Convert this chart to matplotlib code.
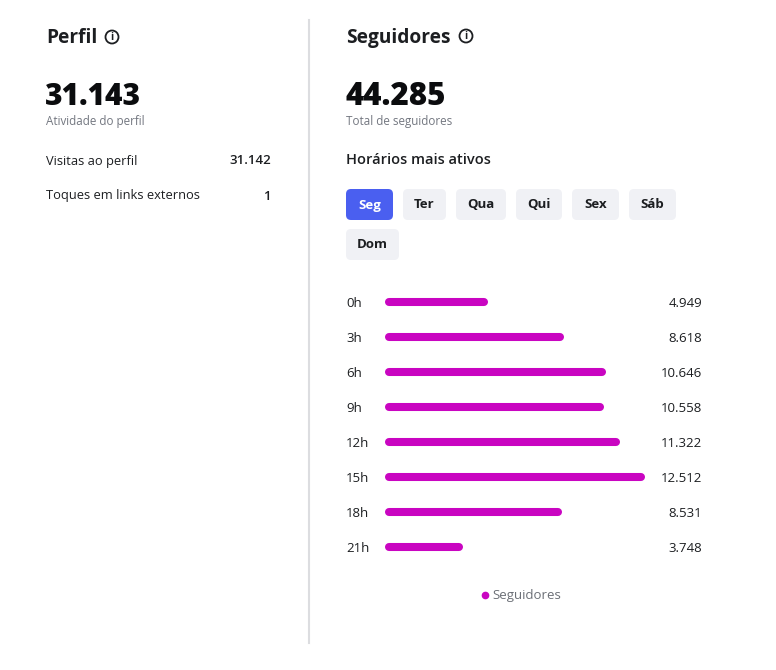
import matplotlib
matplotlib.use("Agg")
from matplotlib import pyplot as plt
from matplotlib import transforms
from matplotlib.patches import FancyBboxPatch, Circle

plt.rcParams['font.family'] = ['Open Sans', 'DejaVu Sans']

# data
profile_total = "31.143"
profile_rows = ["Visitas ao perfil", "Toques em links externos"]
profile_values = ["31.142", "1"]
followers_total = "44.285"
days = ["Seg", "Ter", "Qua", "Qui", "Sex", "Sáb", "Dom"]
hours = ["0h", "3h", "6h", "9h", "12h", "15h", "18h", "21h"]
followers = [4949, 8618, 10646, 10558, 11322, 12512, 8531, 3748]

DARK = "#1c1e21"
GRAY = "#737780"
BAR = "#c905c1"
BLUE = "#4a5ff0"
BTN = "#f0f1f5"

W, H = 776, 670
fig = plt.figure(figsize=(W / 100, H / 100), dpi=100)
bg = fig.add_axes([0, 0, 1, 1])
bg.set_xlim(0, W)
bg.set_ylim(H, 0)
bg.axis("off")


def info_icon(x, y):
    bg.add_patch(Circle((x, y), 6.5, fill=False, lw=1.3, ec=DARK))
    bg.text(x, y + 0.5, "i", ha="center", va="center", fontsize=7.5,
            fontweight="bold", color=DARK)


# divider
bg.plot([309, 309], [20, 643], color="#dcdde0", lw=1.5)

# left panel
bg.text(46, 38, "Perfil", fontsize=13.8, fontweight="bold", color=DARK, va="center")
info_icon(112, 37)
bg.text(45, 97, profile_total, fontsize=21.5, fontweight="extra bold", color="#0b0c0e", va="center")
bg.text(46, 122, "Atividade do perfil", fontsize=8.4, color=GRAY, va="center")
for i, (lab, val) in enumerate(zip(profile_rows, profile_values)):
    y = 161 + i * 35
    bg.text(46, y, lab, fontsize=9.3, color=DARK, va="center")
    bg.text(271, y, val, fontsize=9.5, color=DARK, va="center", ha="right",
            fontweight="semibold")

# right panel
bg.text(346, 38, "Seguidores", fontsize=13.8, fontweight="bold", color=DARK, va="center")
info_icon(466, 36)
bg.text(345, 97, followers_total, fontsize=22.5, fontweight="extra bold", color="#0b0c0e", va="center")
bg.text(346, 122, "Total de seguidores", fontsize=8.4, color=GRAY, va="center")
bg.text(346, 160, "Horários mais ativos", fontsize=10.5, color=DARK, va="center",
        fontweight="semibold")

# day buttons
btn_x = [346, 403, 456, 516, 572, 629, 346]
btn_w = [47, 43, 50, 46, 47, 47, 53]
btn_y = [189, 189, 189, 189, 189, 189, 229]
for i, d in enumerate(days):
    sel = i == 0
    bg.add_patch(FancyBboxPatch((btn_x[i] + 5, btn_y[i] + 5), btn_w[i] - 10, 31 - 10,
                                boxstyle="round,pad=5", fc=BLUE if sel else BTN,
                                ec="none"))
    bg.text(btn_x[i] + btn_w[i] / 2, btn_y[i] + 16, d, ha="center", va="center",
            fontsize=9.5, fontweight="bold", color="white" if sel else DARK)

# bar chart
left, right = 385, 645
top, bottom = 302 - 17.5, 547 + 17.5
ax = fig.add_axes([left / W, 1 - bottom / H, (right - left) / W, (bottom - top) / H])
xmax = max(followers)
ax.set_xlim(0, xmax)
ax.set_ylim(len(hours) - 0.5, -0.5)
ax.axis("off")
cap = 4 * xmax / (right - left)  # round cap radius in data units
for i, v in enumerate(followers):
    ax.plot([cap, v - cap], [i, i], color=BAR, lw=5.8, solid_capstyle="round")

tr = transforms.blended_transform_factory(bg.transData, ax.transData)
for i, (h, v) in enumerate(zip(hours, followers)):
    ax.text(346, i + 0.03, h, transform=tr, ha="left", va="center", fontsize=9.5, color=DARK)
    ax.text(702, i + 0.03, f"{v:,}".replace(",", "."), transform=tr, ha="right",
            va="center", fontsize=9.5, color=DARK)

# legend
bg.plot([485], [595], "o", ms=4.5, color=BAR)
bg.text(492, 595, "Seguidores", fontsize=9.5, color="#6b6f76", va="center")

fig.savefig("out.png", dpi=100, facecolor="white")
